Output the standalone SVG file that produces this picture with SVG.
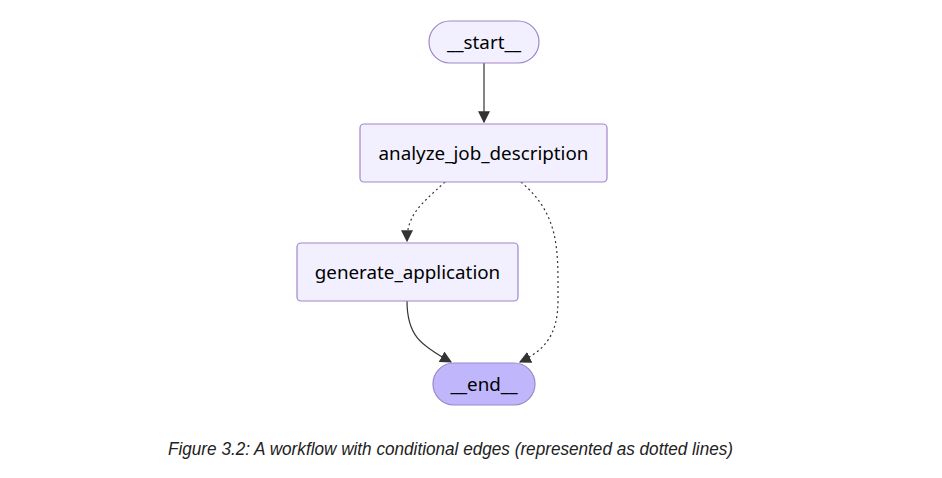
<svg xmlns="http://www.w3.org/2000/svg" width="942" height="478" viewBox="0 0 942 478">
<style>
.node{fill:#f2f0ff;stroke:#9f86c9;stroke-width:1.2}
.endn{fill:#bfb6fc;stroke:#9f86c9;stroke-width:1.2}
.lbl{font-family:"Noto Sans","Liberation Sans",sans-serif;font-size:18.8px;fill:#000;text-anchor:middle;dominant-baseline:central}
.edge{fill:none;stroke:#333;stroke-width:1.2}
.dot{stroke-dasharray:2 3}
.cap{font-family:"Liberation Sans",sans-serif;font-style:italic;font-size:19px;fill:#222}
</style>
<defs>
<marker id="arr" viewBox="0 0 10 10" refX="9" refY="5" markerWidth="12" markerHeight="12" markerUnits="userSpaceOnUse" orient="auto">
<path d="M0,0 L10,5 L0,10 z" fill="#333"/>
</marker>
</defs>
<rect width="942" height="478" fill="#fff"/>
<g id="connectors">
<path class="edge" d="M484,63 L484,122" marker-end="url(#arr)"/>
<path class="edge dot" d="M445,182 C420,205 407,215 407,241" marker-end="url(#arr)"/>
<path class="edge dot" d="M521,182 C560,215 558,250 558,300 C558,335 545,350 520,362" marker-end="url(#arr)"/>
<path class="edge" d="M407,301 C407,335 420,345 451,362" marker-end="url(#arr)"/>
</g>
<g id="start">
<rect class="node" x="429" y="21" width="110" height="42" rx="21"/>
<text class="lbl" x="484" y="42">__start__</text>
</g>
<g id="analyze_job_description">
<rect class="node" x="360" y="124" width="247" height="58" rx="4"/>
<text class="lbl" x="483.5" y="153">analyze_job_description</text>
</g>
<g id="generate_application">
<rect class="node" x="297" y="243" width="221" height="58" rx="4"/>
<text class="lbl" x="407.5" y="272">generate_application</text>
</g>
<g id="end">
<rect class="endn" x="433" y="363" width="102" height="42" rx="21"/>
<text class="lbl" x="484" y="384">__end__</text>
</g>
<text class="cap" x="168" y="455" textLength="565" lengthAdjust="spacingAndGlyphs">Figure 3.2: A workflow with conditional edges (represented as dotted lines)</text>
</svg>
